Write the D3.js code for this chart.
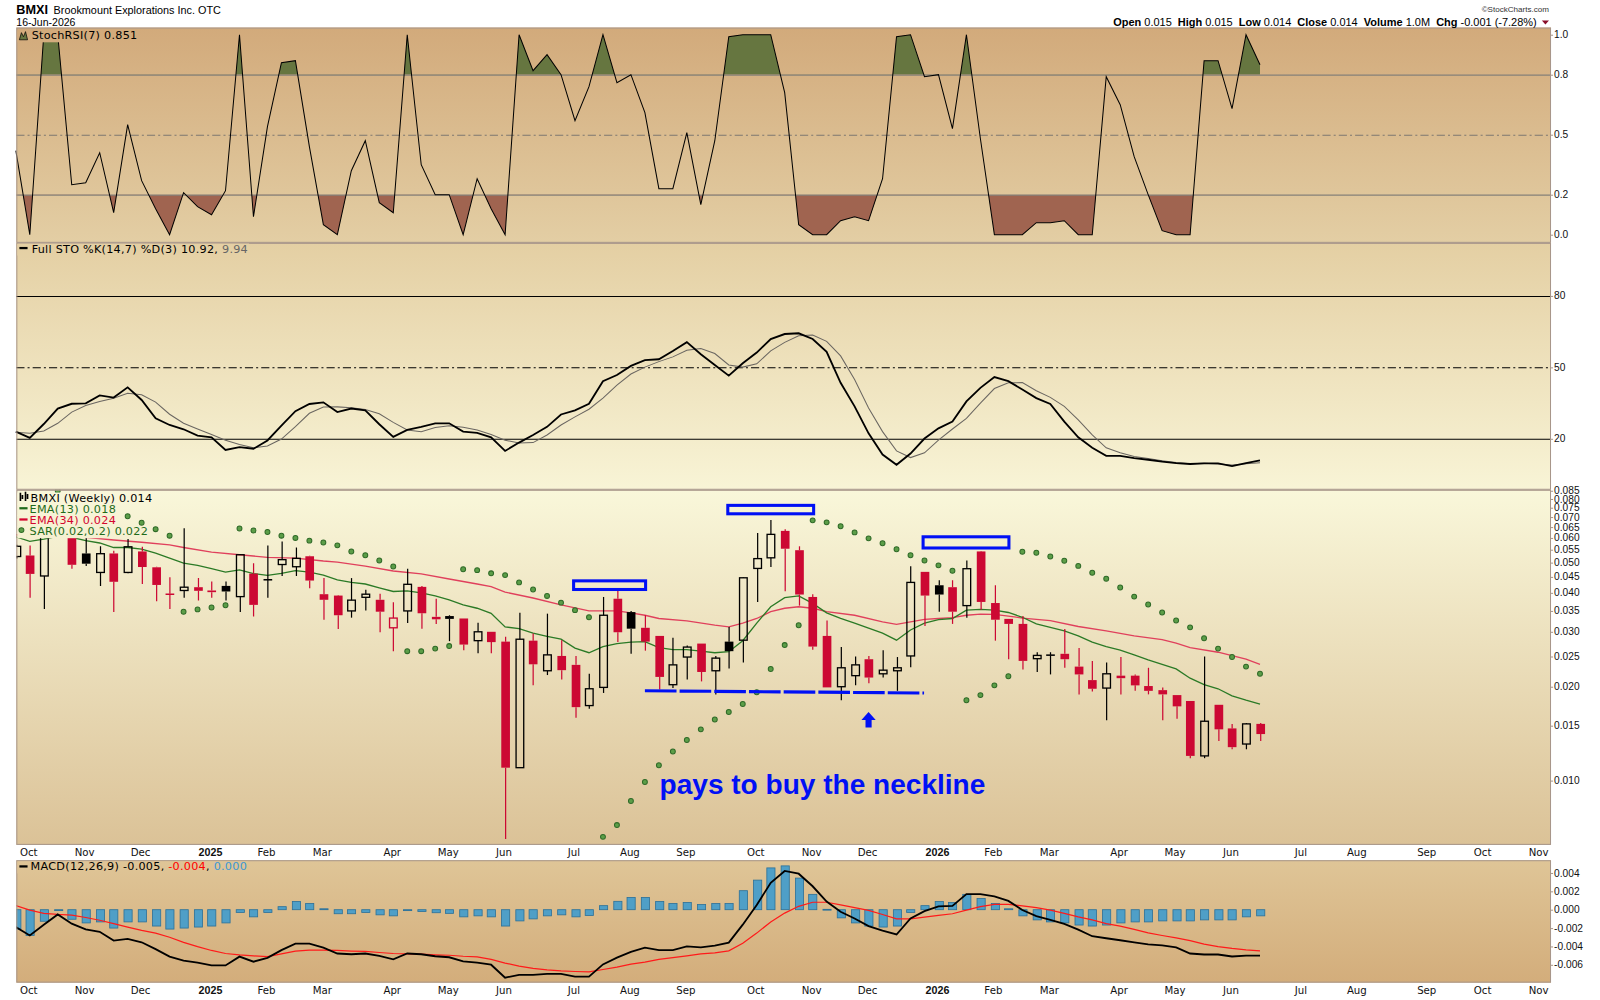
<!DOCTYPE html>
<html>
<head>
<meta charset="utf-8">
<title>BMXI weekly</title>
<script src="https://cdn.jsdelivr.net/npm/d3@7"></script>
<style>
  body { margin: 0; background: #fff; }
</style>
</head>
<body>
<div id="chart"></div>
<script>
// ---------- data (weekly bars, first bar = week of 30-Sep-2024) ----------
const open = [.0523,.0527,.0453,.0615,.0610,.0535,.0465,.0535,.0465,.0543,
  .0483,.0397,.0407,.0417,.0407,.0421,.0389,.0461,.0440,.0493,
  .0485,.0524,.0396,.0392,.0350,.0387,.0380,.0309,.0350,.0418,
  .0335,.0337,.0331,.0281,.0300,.0279,.0110,.0281,.0225,.0251,
  .0235,.0174,.0199,.0383,.0347,.0309,.0291,.0203,.0249,.0275,
  .0225,.0279,.0282,.0479,.0518,.0632,.0548,.0388,.0291,.0200,
  .0217,.0245,.0220,.0225,.0251,.0467,.0423,.0417,.0364,.0543,
  .0371,.0330,.0318,.0246,.0252,.0255,.0232,.0210,.0198,.0217,
  .0217,.0201,.0195,.0188,.0180,.0120,.0175,.0147,.0131,.0152];
const high = [.0570,.0567,.0660,.0800,.0620,.0610,.0564,.0546,.0595,.0562,
  .0485,.0449,.0644,.0446,.0435,.0435,.0532,.0498,.0567,.0584,
  .0559,.0526,.0446,.0394,.0446,.0409,.0397,.0373,.0478,.0421,
  .0383,.0339,.0331,.0321,.0300,.0289,.0345,.0296,.0343,.0282,
  .0251,.0220,.0388,.0409,.0350,.0339,.0291,.0287,.0271,.0275,
  .0251,.0311,.0449,.0622,.0685,.0640,.0564,.0396,.0326,.0268,
  .0250,.0251,.0262,.0249,.0487,.0467,.0439,.0439,.0508,.0545,
  .0423,.0330,.0337,.0258,.0258,.0306,.0266,.0242,.0239,.0249,
  .0219,.0230,.0199,.0188,.0180,.0250,.0175,.0152,.0153,.0153];
const low = [.0515,.0386,.0355,.0612,.0478,.0488,.0421,.0347,.0462,.0427,
  .0376,.0355,.0386,.0378,.0386,.0378,.0347,.0336,.0386,.0453,
  .0453,.0414,.0328,.0306,.0333,.0351,.0299,.0260,.0320,.0307,
  .0318,.0280,.0262,.0256,.0256,.0065,.0110,.0202,.0218,.0211,
  .0159,.0170,.0191,.0278,.0255,.0261,.0196,.0198,.0211,.0208,
  .0189,.0229,.0239,.0374,.0484,.0405,.0364,.0263,.0199,.0181,
  .0202,.0205,.0214,.0194,.0231,.0313,.0348,.0318,.0333,.0353,
  .0281,.0245,.0227,.0223,.0219,.0230,.0189,.0193,.0156,.0189,
  .0194,.0189,.0156,.0158,.0118,.0118,.0134,.0126,.0126,.0134];
const close = [.0564,.0460,.0610,.0660,.0492,.0496,.0534,.0434,.0562,.0484,
  .0424,.0395,.0417,.0406,.0402,.0404,.0530,.0366,.0441,.0511,
  .0516,.0438,.0380,.0339,.0379,.0396,.0348,.0332,.0426,.0344,
  .0329,.0330,.0273,.0300,.0278,.0110,.0284,.0236,.0253,.0226,
  .0172,.0197,.0339,.0299,.0307,.0279,.0215,.0235,.0268,.0223,
  .0247,.0260,.0447,.0515,.0616,.0554,.0395,.0269,.0199,.0230,
  .0235,.0214,.0226,.0230,.0432,.0392,.0395,.0348,.0478,.0374,
  .0328,.0318,.0242,.0252,.0253,.0245,.0219,.0197,.0220,.0213,
  .0202,.0194,.0189,.0173,.0120,.0155,.0146,.0128,.0152,.0141];

const ema13 = [.0605,.0585,.0595,.0607,.0603,.0588,.0578,.0559,.0559,.0552,
  .0536,.0517,.0498,.0490,.0478,.0466,.0474,.0461,.0455,.0462,
  .0471,.0466,.0456,.0440,.0432,.0427,.0415,.0404,.0406,.0400,
  .0391,.0380,.0366,.0357,.0344,.0311,.0307,.0297,.0290,.0284,
  .0266,.0257,.0269,.0275,.0278,.0279,.0267,.0263,.0263,.0260,
  .0257,.0259,.0281,.0320,.0361,.0386,.0391,.0370,.0345,.0331,
  .0320,.0308,.0297,.0282,.0304,.0320,.0328,.0331,.0352,.0354,
  .0352,.0346,.0334,.0318,.0310,.0302,.0291,.0278,.0269,.0262,
  .0253,.0244,.0236,.0228,.0213,.0203,.0197,.0187,.0181,.0176];
const ema34 = [.0614,null,.0609,null,.0610,.0603,null,.0591,null,.0581,
  null,.0570,.0559,null,.0540,null,.0530,null,.0520,null,
  .0517,null,.0506,.0502,null,.0487,null,.0470,null,.0460,
  null,.0443,null,.0427,.0419,.0402,null,.0385,null,.0366,
  null,.0350,null,.0350,.0345,.0339,.0331,null,.0325,null,
  .0315,.0311,.0320,.0331,.0348,.0357,.0361,.0357,.0348,null,
  .0339,null,.0323,.0317,.0323,.0329,.0331,.0333,.0339,.0342,
  .0341,.0337,.0332,null,.0326,null,.0312,null,.0302,null,
  .0291,null,.0283,.0276,.0267,null,.0258,null,.0245,.0236];
const sar = [null,null,null,.0850,.0818,.0796,.0770,.0739,.0704,.0671,
  .0640,.0610,.0348,.0354,.0359,.0365,.0643,.0634,.0627,.0610,
  .0600,.0588,.0580,.0568,.0543,.0528,.0508,.0486,.0260,.0260,
  .0265,.0270,.0476,.0473,.0462,.0456,.0432,.0410,.0391,.0372,
  .0352,.0334,.0066,.0072,.0086,.0099,.0112,.0124,.0135,.0146,
  .0157,.0166,.0176,.0192,.0228,.0272,.0315,.0683,.0673,.0654,
  .0625,.0598,.0577,.0552,.0528,.0508,.0490,.0471,.0181,.0188,
  .0202,.0216,.0542,.0538,.0523,.0507,.0488,.0464,.0444,.0416,
  .0389,.0367,.0346,.0326,.0310,.0286,.0265,.0249,.0232,.0220];

const stochRsi = [0.42,0,1,1,0.25,0.26,0.41,0.11,0.55,0.27,
  0.13,0,0.21,0.14,0.10,0.22,1,0.09,0.54,0.86,
  0.87,0.44,0.05,0,0.32,0.47,0.16,0.11,1,0.35,
  0.20,0.20,0,0.28,0.13,0,1,0.82,0.90,0.80,
  0.57,0.74,1,0.76,0.80,0.61,0.23,0.23,0.51,0.15,
  0.47,0.99,1,1,1,0.71,0.05,0,0,0.07,
  0.09,0.07,0.28,0.99,1,0.79,0.80,0.53,1,0.48,
  0,0,0,0.06,0.06,0.07,0,0,0.79,0.65,
  0.39,0.20,0.02,0,0,0.87,0.87,0.63,1,0.85];

const stoK = [23.0,20.4,26.2,32.7,34.7,34.9,38.2,37.3,41.6,36.3,
  28.6,25.8,24.0,21.3,20.6,15.3,16.5,15.8,19.3,25.5,
  31.6,34.6,35.3,31.2,32.7,31.9,26.1,20.8,23.7,25.0,
  26.5,26.5,23.0,22.5,20.6,14.9,18.4,21.6,25.0,30.2,
  31.9,34.7,44.2,46.8,50.6,53.0,53.4,56.9,60.6,55.5,
  51.0,46.5,51.7,56.2,61.9,64.0,64.3,61.9,56.5,43.5,
  33.6,22.3,13.4,9.1,13.8,20.1,24.4,27.2,35.7,41.4,
  45.9,44.2,40.7,37.1,34.6,27.2,20.6,16.2,12.8,12.8,
  11.9,11.2,10.4,9.8,9.4,9.7,9.7,8.5,9.8,10.9];
const stoD = [22.7,22.3,23.3,26.5,31.2,34.0,35.7,37.0,39.1,38.5,
  35.4,30.3,26.5,24.1,21.8,19.4,17.6,16.2,17.0,19.9,
  25.1,30.7,33.3,33.4,33.0,32.3,30.5,26.9,23.7,23.0,
  24.7,25.5,24.8,23.7,21.8,19.4,18.2,18.4,21.6,25.8,
  29.2,32.4,37.1,42.5,47.2,50.1,52.4,54.4,57.2,57.9,
  55.8,51.0,50.1,51.5,56.9,60.5,63.3,63.6,60.9,54.8,
  44.9,32.9,23.0,14.9,12.1,14.1,19.4,24.1,28.6,35.0,
  41.1,43.5,43.6,40.2,37.4,33.6,27.9,21.6,16.2,14.1,
  12.6,11.7,10.8,10.0,9.5,9.7,9.4,9.0,9.5,9.9];

const macd = [-.00189,-.00281,-.00163,-.00052,-.00152,-.00215,-.00241,-.00337,-.00318,-.00355,
  -.00429,-.00511,-.00555,-.00577,-.00607,-.00607,-.00511,-.00566,-.00525,-.00440,
  -.00370,-.00370,-.00414,-.00477,-.00485,-.00477,-.00503,-.00540,-.00477,-.00485,
  -.00507,-.00518,-.00562,-.00577,-.00599,-.00740,-.00710,-.00710,-.00699,-.00699,
  -.00729,-.00729,-.00596,-.00522,-.00459,-.00414,-.00440,-.00440,-.00400,-.00410,
  -.00392,-.00359,-.00163,.00052,.00292,.00422,.00392,.00255,.00089,-.00022,
  -.00096,-.00178,-.00229,-.00270,-.00096,-.00015,.00037,.00041,.00170,.00170,
  .00144,.00096,-.00004,-.00070,-.00111,-.00155,-.00218,-.00289,-.00311,-.00333,
  -.00355,-.00377,-.00389,-.00410,-.00477,-.00488,-.00488,-.00510,-.00500,-.00500];
const macdSignal = [.00044,-.00004,-.00041,-.00052,-.00059,-.00085,-.00115,-.00152,-.00189,-.00226,
  -.00255,-.00300,-.00355,-.00403,-.00444,-.00477,-.00492,-.00503,-.00511,-.00481,
  -.00451,-.00440,-.00440,-.00444,-.00451,-.00455,-.00466,-.00477,-.00481,-.00485,
  -.00492,-.00496,-.00507,-.00514,-.00540,-.00581,-.00614,-.00640,-.00655,-.00666,
  -.00673,-.00677,-.00651,-.00625,-.00592,-.00570,-.00540,-.00522,-.00503,-.00481,
  -.00470,-.00448,-.00366,-.00255,-.00133,-.00037,.00037,.00081,.00081,.00052,
  .00022,-.00007,-.00052,-.00100,-.00100,-.00081,-.00063,-.00044,-.00004,.00033,
  .00059,.00059,.00041,.00022,-.00004,-.00041,-.00078,-.00111,-.00152,-.00178,
  -.00215,-.00252,-.00281,-.00307,-.00337,-.00374,-.00403,-.00422,-.00437,-.00448];
const macdHist = [-.00210,-.00280,-.00126,-.00010,-.00104,-.00144,-.00133,-.00200,-.00133,-.00133,
  -.00178,-.00211,-.00200,-.00189,-.00178,-.00144,-.00030,-.00078,-.00030,.00033,
  .00089,.00067,.00010,-.00044,-.00044,-.00030,-.00056,-.00067,-.00010,-.00020,
  -.00033,-.00040,-.00078,-.00067,-.00078,-.00178,-.00122,-.00100,-.00067,-.00056,
  -.00078,-.00063,.00044,.00091,.00133,.00133,.00089,.00067,.00078,.00056,
  .00067,.00067,.00207,.00322,.00455,.00477,.00344,.00167,.00004,-.00089,
  -.00144,-.00178,-.00189,-.00178,-.00030,.00044,.00089,.00078,.00167,.00122,
  .00067,.00010,-.00067,-.00111,-.00133,-.00144,-.00167,-.00178,-.00167,-.00144,
  -.00133,-.00133,-.00122,-.00122,-.00122,-.00111,-.00111,-.00111,-.00078,-.00067];

// axis tick values and labels
const xTickLabels = ["Oct","Nov","Dec","2025","Feb","Mar","Apr","May","Jun","Jul","Aug","Sep",
  "Oct","Nov","Dec","2026","Feb","Mar","Apr","May","Jun","Jul","Aug","Sep","Oct","Nov"];
const rsiTicks = [1.0, 0.8, 0.5, 0.2, 0.0];
const stoTicks = [80, 50, 20];
const priceTicks = [0.085,0.080,0.075,0.070,0.065,0.060,0.055,0.050,0.045,0.040,0.035,0.030,0.025,0.020,0.015,0.010];
const macdTicks = [0.004, 0.002, 0.000, -0.002, -0.004, -0.006];

// hand drawn annotations, in (week index, price) units
const noteBoxes = [
  { i0: 39.9, i1: 45.05, p0: 0.0410, p1: 0.0437 },
  { i0: 50.93, i1: 57.07, p0: 0.0717, p1: 0.0763 },
  { i0: 64.9, i1: 71.04, p0: 0.0557, p1: 0.0605 }
];
const neckline = [[45.0, 0.0194], [64.97, 0.0191]];
const arrowAt = { i: 61.0, tip: 0.0166, base: 0.0148 };
const noteText = { i: 46.05, p: 0.00905, text: "pays to buy the neckline" };

// ---------- layout (drawn on a 1568 grid, scaled up to the 1600 page) ----------
const width = 1600, height = 1000, S = 1600 / 1568;
const left = 16, right = 1520;
const rsiBox = { top: 27, bottom: 238 };
const stoBox = { top: 238, bottom: 480 };
const priceBox = { top: 480, bottom: 828 };
const macdBox = { top: 843, bottom: 963 };
const red = "#cc0833";
const border = "#a8968a";
const narrow = "Liberation Sans Narrow, Arial Narrow, Liberation Sans, sans-serif";
const axisFont = "Liberation Sans, Arial, sans-serif";

const svg = d3.select("#chart").append("svg")
    .attr("width", width).attr("height", height)
    .attr("font-family", "DejaVu Sans, Verdana, sans-serif");
svg.append("rect").attr("width", width).attr("height", height).attr("fill", "#fff");
const defs = svg.append("defs");
const root = svg.append("g").attr("transform", `scale(${S})`);

function gradient(id, top, bottom, box) {
  const g = defs.append("linearGradient").attr("id", id)
      .attr("gradientUnits", "userSpaceOnUse")
      .attr("x1", 0).attr("x2", 0).attr("y1", box.top).attr("y2", box.bottom);
  g.append("stop").attr("offset", 0).attr("stop-color", top);
  g.append("stop").attr("offset", 1).attr("stop-color", bottom);
}
gradient("gRsi", "#d2aa7b", "#e3cea4", rsiBox);
gradient("gSto", "#e4cfa3", "#f8f4d6", stoBox);
gradient("gPrice", "#f9f7da", "#dbc297", priceBox);
gradient("gMacd", "#dfc597", "#d3ad7b", macdBox);

function clip(id, x0, y0, x1, y1) {
  defs.append("clipPath").attr("id", id).append("rect")
      .attr("x", x0).attr("y", y0).attr("width", x1 - x0).attr("height", y1 - y0);
}

// ---------- scales ----------
const weekStart = new Date(2024, 8, 30);
const n = close.length;
const dates = d3.range(n).map(i => d3.timeDay.offset(weekStart, 7 * i));
const x = d3.scaleTime().domain([dates[0], dates[n - 1]]).range([15.5, 1234.8]);
const xw = d3.scaleLinear().domain([0, n - 1]).range(x.range());

const yR = d3.scaleLinear().domain([0, 1]).range([230, 34]);
const yS = d3.scaleLinear().domain([20, 80]).range([430, 290]);
const yP = d3.scaleLog().domain([0.00622, 0.0856]).range([priceBox.bottom, priceBox.top]);
const yM = d3.scaleLinear().domain([-0.006, 0.004]).range([945.5, 855.5]);

// ---------- panel backgrounds ----------
[[rsiBox, "gRsi"], [stoBox, "gSto"], [priceBox, "gPrice"], [macdBox, "gMacd"]].forEach(([b, g]) => {
  root.append("rect").attr("x", left).attr("y", b.top).attr("width", right - left)
     .attr("height", b.bottom - b.top).attr("fill", `url(#${g})`);
});

// ---------- StochRSI ----------
const rsiG = root.append("g");
clip("cRsiHi", left, rsiBox.top, right, yR(0.8));
clip("cRsiLo", left, yR(0.2), right, rsiBox.bottom);
rsiG.append("path").datum(stochRsi)
    .attr("d", d3.area().x((d, i) => xw(i)).y0(yR(0.8)).y1(d => yR(d)))
    .attr("fill", "#667640").attr("clip-path", "url(#cRsiHi)");
rsiG.append("path").datum(stochRsi)
    .attr("d", d3.area().x((d, i) => xw(i)).y0(yR(0.2)).y1(d => yR(d)))
    .attr("fill", "#a06450").attr("clip-path", "url(#cRsiLo)");
[0.8, 0.2].forEach(v => rsiG.append("line").attr("x1", left).attr("x2", right)
    .attr("y1", yR(v) + 0.5).attr("y2", yR(v) + 0.5).attr("stroke", "#858079").attr("stroke-width", 1.2));
rsiG.append("line").attr("x1", left).attr("x2", right)
    .attr("y1", yR(0.5) + 0.5).attr("y2", yR(0.5) + 0.5)
    .attr("stroke", "#7d7770").attr("stroke-dasharray", "8,3,2,3");
rsiG.append("path").datum(stochRsi)
    .attr("d", d3.line().x((d, i) => xw(i)).y(d => yR(d)))
    .attr("fill", "none").attr("stroke", "#000").attr("stroke-width", 1);

// ---------- Full STO ----------
const stoG = root.append("g");
[80, 20].forEach(v => stoG.append("line").attr("x1", left).attr("x2", right)
    .attr("y1", yS(v) + 0.5).attr("y2", yS(v) + 0.5).attr("stroke", "#000"));
stoG.append("line").attr("x1", left).attr("x2", right)
    .attr("y1", yS(50) + 0.5).attr("y2", yS(50) + 0.5)
    .attr("stroke", "#000").attr("stroke-dasharray", "8,3,2,3");
stoG.append("path").datum(stoD)
    .attr("d", d3.line().x((d, i) => xw(i)).y(d => yS(d)))
    .attr("fill", "none").attr("stroke", "#6a6661").attr("stroke-width", 1);
stoG.append("path").datum(stoK)
    .attr("d", d3.line().x((d, i) => xw(i)).y(d => yS(d)))
    .attr("fill", "none").attr("stroke", "#000").attr("stroke-width", 1.8);

// ---------- price ----------
clip("cPrice", left, priceBox.top, right, priceBox.bottom);
const priceG = root.append("g").attr("clip-path", "url(#cPrice)");

const ema34Pts = ema34.map((v, i) => [i, v]).filter(d => d[1] != null);
priceG.append("path").datum(ema34Pts)
    .attr("d", d3.line().x(d => xw(d[0])).y(d => yP(d[1])))
    .attr("fill", "none").attr("stroke", "#e0405c").attr("stroke-width", 1.3);
priceG.append("path").datum(ema13)
    .attr("d", d3.line().x((d, i) => xw(i)).y(d => yP(d)))
    .attr("fill", "none").attr("stroke", "#2b7a26").attr("stroke-width", 1.3);

const candles = d3.range(n).map(i => {
  const prev = i > 0 ? close[i - 1] : open[i];
  return { i, o: open[i], h: high[i], l: low[i], c: close[i],
           hollow: close[i] >= open[i], col: close[i] < prev ? red : "#000" };
});
const cw = 8.5;
const cg = priceG.append("g");
candles.forEach(d => {
  const cx = Math.round(xw(d.i)) + 0.5;
  const yT = yP(Math.max(d.o, d.c)), yB = yP(Math.min(d.o, d.c));
  cg.append("line").attr("x1", cx).attr("x2", cx).attr("y1", yP(d.h)).attr("y2", yT)
    .attr("stroke", d.col).attr("stroke-width", 1.2);
  cg.append("line").attr("x1", cx).attr("x2", cx).attr("y1", yB).attr("y2", yP(d.l))
    .attr("stroke", d.col).attr("stroke-width", 1.2);
  if (yB - yT < 1.6) {
    cg.append("line").attr("x1", cx - cw / 2).attr("x2", cx + cw / 2)
      .attr("y1", (yT + yB) / 2).attr("y2", (yT + yB) / 2)
      .attr("stroke", d.col).attr("stroke-width", 1.5);
  } else if (d.hollow) {
    cg.append("rect").attr("x", cx - cw / 2 + 0.5).attr("y", yT).attr("width", cw - 1)
      .attr("height", yB - yT).attr("fill", "none").attr("stroke", d.col).attr("stroke-width", 1.3);
  } else {
    cg.append("rect").attr("x", cx - cw / 2).attr("y", yT).attr("width", cw)
      .attr("height", yB - yT).attr("fill", d.col);
  }
});

priceG.append("g").selectAll("circle")
  .data(sar.map((v, i) => [i, v]).filter(d => d[1] != null))
  .join("circle")
    .attr("cx", d => xw(d[0])).attr("cy", d => yP(d[1])).attr("r", 2.4)
    .attr("fill", "#5c9e48").attr("stroke", "#2f6a27").attr("stroke-width", 1);

// annotations
const blue = "#0010f5";
noteBoxes.forEach(b => {
  priceG.append("rect").attr("x", xw(b.i0)).attr("y", yP(b.p1))
    .attr("width", xw(b.i1) - xw(b.i0)).attr("height", yP(b.p0) - yP(b.p1))
    .attr("fill", "none").attr("stroke", blue).attr("stroke-width", 3);
});
priceG.append("line")
  .attr("x1", xw(neckline[0][0])).attr("y1", yP(neckline[0][1]))
  .attr("x2", xw(neckline[1][0])).attr("y2", yP(neckline[1][1]))
  .attr("stroke", blue).attr("stroke-width", 3).attr("stroke-dasharray", "31,3");
{
  const ax = xw(arrowAt.i), ty = yP(arrowAt.tip), by = yP(arrowAt.base);
  priceG.append("path").attr("fill", blue)
    .attr("d", `M${ax},${ty} L${ax + 7},${ty + 8} L${ax + 3},${ty + 8} L${ax + 3},${by} L${ax - 3},${by} L${ax - 3},${ty + 8} L${ax - 7},${ty + 8} Z`);
}
priceG.append("text").attr("x", xw(noteText.i)).attr("y", yP(noteText.p))
  .attr("font-family", "Liberation Sans, Arial, sans-serif").attr("font-weight", "bold")
  .attr("font-size", 27.5).attr("fill", blue).text(noteText.text);

// ---------- MACD ----------
clip("cMacd", left, macdBox.top, right, macdBox.bottom);
const macdG = root.append("g").attr("clip-path", "url(#cMacd)");
macdG.append("g").selectAll("rect").data(macdHist).join("rect")
  .attr("x", (d, i) => Math.round(xw(i)) - 3.5).attr("width", 8)
  .attr("y", d => Math.min(yM(d), yM(0))).attr("height", d => Math.max(0.8, Math.abs(yM(d) - yM(0))))
  .attr("fill", "#4f9fc7").attr("stroke", "#2c7199").attr("stroke-width", 0.8);
macdG.append("path").datum(macdSignal)
  .attr("d", d3.line().x((d, i) => xw(i)).y(d => yM(d)))
  .attr("fill", "none").attr("stroke", "#ff1a1a").attr("stroke-width", 1.2);
macdG.append("path").datum(macd)
  .attr("d", d3.line().x((d, i) => xw(i)).y(d => yM(d)))
  .attr("fill", "none").attr("stroke", "#000").attr("stroke-width", 1.8);

// ---------- panel borders ----------
[rsiBox, stoBox, priceBox, macdBox].forEach(b => {
  root.append("rect").attr("x", left + 0.5).attr("y", b.top + 0.5)
    .attr("width", right - left - 1).attr("height", b.bottom - b.top - 1)
    .attr("fill", "none").attr("stroke", border);
});

// ---------- right axes ----------
function rightLabels(vals, scale, fmt) {
  root.append("g").selectAll("text").data(vals).join("text")
    .attr("x", right + 3).attr("y", d => scale(d) + 3.5)
    .attr("font-family", axisFont).attr("font-size", 10).attr("fill", "#111")
    .text(fmt);
  root.append("g").selectAll("line").data(vals).join("line")
    .attr("x1", right).attr("x2", right + 2).attr("y1", d => scale(d) + 0.5).attr("y2", d => scale(d) + 0.5)
    .attr("stroke", border);
}
rightLabels(rsiTicks, yR, d3.format(".1f"));
rightLabels(stoTicks, yS, d3.format("d"));
rightLabels(priceTicks, yP, d3.format(".3f"));
rightLabels(macdTicks, yM, d => d3.format(".3f")(d).replace("\u2212", "-"));

// ---------- x axes (two label rows) ----------
const months = d3.timeMonth.range(new Date(2024, 9, 1), new Date(2026, 11, 1));
[839, 974].forEach(yb => {
  months.forEach((m, k) => {
    const lab = xTickLabels[k];
    const isYear = /^\d{4}$/.test(lab);
    root.append("text").attr("x", x(d3.timeMonday.ceil(m)) - 1).attr("y", yb)
      .attr("text-anchor", "middle")
      .attr("font-family", isYear ? axisFont : null)
      .attr("font-weight", isYear ? "bold" : null)
      .attr("font-size", isYear ? 10.5 : 10).attr("fill", "#111").text(lab);
  });
});

// ---------- legends ----------
function legendRow(xText, yBase, parts, fillId) {
  const g = root.append("g");
  const bg = g.append("rect").attr("fill", `url(#${fillId})`);
  const t = g.append("text").attr("x", xText).attr("y", yBase).attr("font-size", 11)
    .attr("letter-spacing", 0.25).style("white-space", "pre");
  parts.forEach(p => t.append("tspan").attr("fill", p[1]).text(p[0]));
  const b = t.node().getBBox();
  bg.attr("x", left + 1).attr("y", b.y + 1).attr("width", b.x + b.width - left).attr("height", b.height - 1);
  return g;
}
// StochRSI
const lg1 = legendRow(31, 38.5, [["StochRSI(7) 0.851", "#000"]], "gRsi");
lg1.append("path").attr("d", "M19,39 L21,32 L23,36 L25,31 L27,39 Z").attr("fill", "#667640").attr("stroke", "#000").attr("stroke-width", 0.7);
// Full STO
const lg2 = legendRow(31, 247.5, [["Full STO %K(14,7) %D(3) 10.92, ", "#000"], ["9.94", "#666"]], "gSto");
lg2.append("rect").attr("x", 19).attr("y", 242).attr("width", 8).attr("height", 2.2).attr("fill", "#000");
// price
const lg3 = legendRow(30, 491.5, [["BMXI (Weekly) 0.014", "#000"]], "gPrice");
lg3.append("path").attr("d", "M20,483 v8 M22,485 v4 M25,482 v9 M27,484 v5").attr("stroke", "#000").attr("stroke-width", 1.6);
const lg4 = legendRow(29, 502.5, [["EMA(13) 0.018", "#1f6b1b"]], "gPrice");
lg4.append("rect").attr("x", 19).attr("y", 497).attr("width", 8).attr("height", 2.2).attr("fill", "#1f6b1b");
const lg5 = legendRow(29, 513.5, [["EMA(34) 0.024", "#d4062e"]], "gPrice");
lg5.append("rect").attr("x", 19).attr("y", 508).attr("width", 8).attr("height", 2.2).attr("fill", "#d4062e");
const lg6 = legendRow(29, 524.5, [["SAR(0.02,0.2) 0.022", "#1f6b1b"]], "gPrice");
lg6.append("circle").attr("cx", 21).attr("cy", 519.5).attr("r", 2.4).attr("fill", "#5c9e48").attr("stroke", "#2f6a27");
// MACD
const lg7 = legendRow(30, 853, [["MACD(12,26,9) -0.005, ", "#000"], ["-0.004", "#f00"], [", ", "#000"], ["0.000", "#3b98d4"]], "gMacd");
lg7.append("rect").attr("x", 19).attr("y", 848).attr("width", 8).attr("height", 2.2).attr("fill", "#000");

// ---------- header ----------
// font size is scaled so each header text keeps the width it has in the picture
function fitText(sel, target) {
  const w = sel.node().getComputedTextLength();
  if (w > 0) sel.attr("font-size", +sel.attr("font-size") * target / w);
  return sel;
}
fitText(root.append("text").attr("x", 16).attr("y", 13.5).attr("font-family", narrow)
  .attr("font-weight", "bold").attr("font-size", 14).text("BMXI"), 31);
fitText(root.append("text").attr("x", 52.5).attr("y", 13.5).attr("font-family", narrow)
  .attr("font-size", 12.5).text("Brookmount Explorations Inc. OTC"), 164);
fitText(root.append("text").attr("x", 16).attr("y", 25).attr("font-family", narrow)
  .attr("font-size", 12).text("16-Jun-2026"), 58);
fitText(root.append("text").attr("x", 1518).attr("y", 11.5).attr("text-anchor", "end")
  .attr("font-family", narrow).attr("font-size", 11.5).attr("fill", "#333")
  .text("\u00a9StockCharts.com"), 66);
const quote = root.append("text").attr("x", 1506).attr("y", 25.5).attr("text-anchor", "end")
  .attr("font-family", narrow).attr("font-size", 12.5).style("white-space", "pre");
[["Open", 1], [" 0.015  ", 0], ["High", 1], [" 0.015  ", 0], ["Low", 1], [" 0.014  ", 0],
 ["Close", 1], [" 0.014  ", 0], ["Volume", 1], [" 1.0M  ", 0], ["Chg", 1], [" -0.001 (-7.28%)", 0]]
  .forEach(p => quote.append("tspan").attr("font-weight", p[1] ? "bold" : "normal").text(p[0]));
fitText(quote, 415);
root.append("path").attr("d", "M1511,20 L1518,20 L1514.5,24 Z").attr("fill", "#8a0f2a");
</script>
</body>
</html>
